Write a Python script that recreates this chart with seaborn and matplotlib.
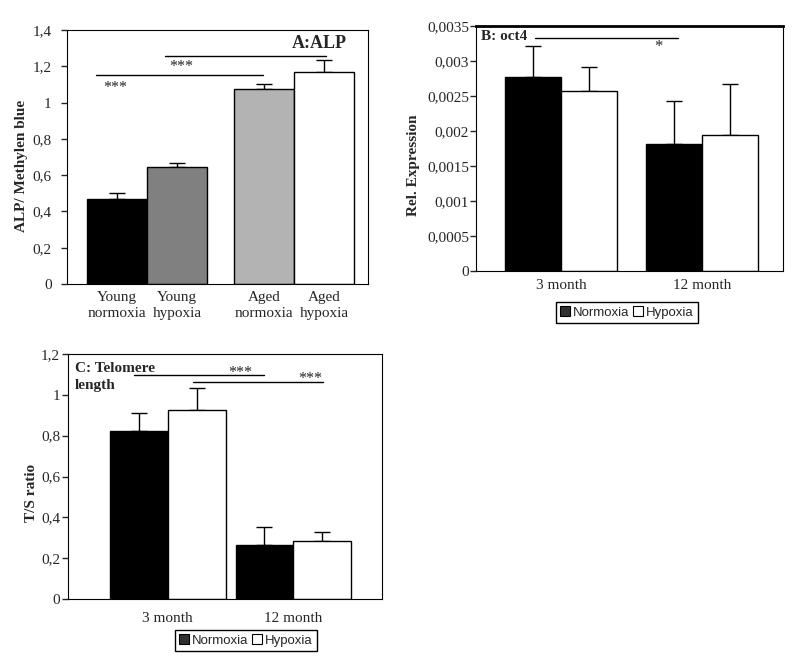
import matplotlib.pyplot as plt
import pandas as pd
import seaborn as sns
from matplotlib.patches import Patch

# Panel A: ALP / Methylen blue
alp_groups = ["Young", "Aged"]
alp_conditions = ["normoxia", "hypoxia"]
alp_values = [0.468, 0.643, 1.073, 1.170]
alp_errors = [0.035, 0.022, 0.027, 0.063]
alp_colors = ["black", "#808080", "#b3b3b3", "white"]
alp_tick_labels = ["Young\nnormoxia", "Young\nhypoxia", "Aged\nnormoxia", "Aged\nhypoxia"]
alp_yticks = [0, 0.2, 0.4, 0.6, 0.8, 1.0, 1.2, 1.4]

# Panel B: oct4 relative expression
oct4_groups = ["3 month", "12 month"]
oct4_conditions = ["Normoxia", "Hypoxia"]
oct4_values = [0.00277, 0.00257, 0.00182, 0.00195]
oct4_errors = [0.00045, 0.00034, 0.00061, 0.00072]
oct4_yticks = [0, 0.0005, 0.001, 0.0015, 0.002, 0.0025, 0.003, 0.0035]

# Panel C: telomere length
telo_groups = ["3 month", "12 month"]
telo_conditions = ["Normoxia", "Hypoxia"]
telo_values = [0.823, 0.924, 0.264, 0.284]
telo_errors = [0.086, 0.108, 0.090, 0.043]
telo_yticks = [0, 0.2, 0.4, 0.6, 0.8, 1.0, 1.2]

bw_colors = ["black", "white", "black", "white"]

sns.set_style("ticks", rc={"axes.edgecolor": "black", "axes.linewidth": 1.0})
plt.rcParams["font.family"] = ["Liberation Serif", "DejaVu Serif"]
plt.rcParams["font.size"] = 11


def comma(v):
    return f"{v:g}".replace(".", ",")


def draw_bars(ax, groups, conditions, values, errors, colors, width):
    df = pd.DataFrame({
        "group": [g for g in groups for c in conditions],
        "condition": [c for g in groups for c in conditions],
        "value": values,
    })
    sns.barplot(data=df, x="group", y="value", hue="condition", order=groups,
                hue_order=conditions, width=width, errorbar=None, saturation=1,
                palette=["black", "white"], edgecolor="black", linewidth=1,
                legend=False, ax=ax)
    bar_containers = list(ax.containers)
    centers = {}
    for container, cond in zip(bar_containers, conditions):
        for bar, grp in zip(container, groups):
            i = groups.index(grp) * len(conditions) + conditions.index(cond)
            bar.set_facecolor(colors[i])
            bar.set_zorder(2)
            xc = bar.get_x() + bar.get_width() / 2
            centers[i] = xc
            ax.errorbar(xc, values[i], yerr=[[0], [errors[i]]], color="black",
                        lw=1, capsize=6, capthick=1, zorder=1)
    return [centers[i] for i in range(len(values))]


def style_axes(ax, yticks, ypad):
    ax.set_ylim(yticks[0], yticks[-1])
    ax.set_yticks(yticks)
    ax.set_yticklabels([comma(v) for v in yticks])
    ax.tick_params(axis="y", length=4, width=1, pad=ypad, labelsize=11)
    ax.tick_params(axis="x", length=0, labelsize=11)
    ax.set_xlabel("")
    for s in ax.spines.values():
        s.set_visible(True)
        s.set_color("black")


def add_legend(ax, conditions, xfrac):
    handles = [Patch(facecolor="#303030", edgecolor="black", lw=0.8),
               Patch(facecolor="white", edgecolor="black", lw=0.8)]
    leg = ax.legend(handles, conditions, loc="upper center", ncol=2,
                    bbox_to_anchor=(xfrac, -0.125), frameon=True, fancybox=False,
                    edgecolor="black", framealpha=1, handlelength=0.75,
                    handleheight=0.75, handletextpad=0.2, columnspacing=0.3,
                    borderpad=0.35, borderaxespad=0,
                    prop={"family": "Liberation Sans", "size": 9.5})
    leg.get_frame().set_linewidth(1)


fig = plt.figure(figsize=(8.04, 6.72), dpi=100)

# ---- A ----
axA = fig.add_axes([0.0833, 0.5774, 0.3744, 0.378])
centers = draw_bars(axA, alp_groups, alp_conditions, alp_values, alp_errors,
                    alp_colors, 0.816)
style_axes(axA, alp_yticks, 7)
axA.set_xlim(-0.544, 1.503)
axA.set_xticks(centers)
axA.set_xticklabels(alp_tick_labels, linespacing=1.3)
axA.tick_params(axis="x", pad=5)
axA.set_ylabel("ALP/ Methylen blue", fontweight="bold", fontsize=11)
axA.yaxis.set_label_coords(-0.13, 0.465)
axA.plot([-0.347, 0.789], [1.152, 1.152], color="black", lw=1)
axA.plot([0.122, 1.218], [1.257, 1.257], color="black", lw=1)
axA.text(-0.218, 1.08, "***", ha="center", va="center", fontsize=11.5)
axA.text(0.231, 1.195, "***", ha="center", va="center", fontsize=11.5)
axA.text(0.93, 0.945, "A:ALP", transform=axA.transAxes, ha="right", va="center",
         fontweight="bold", fontsize=13)

# ---- B ----
axB = fig.add_axes([0.592, 0.5967, 0.3818, 0.3646])
draw_bars(axB, oct4_groups, oct4_conditions, oct4_values, oct4_errors,
          bw_colors, 0.80)
style_axes(axB, oct4_yticks, 1)
axB.set_xlim(-0.603, 1.574)
axB.tick_params(axis="x", pad=6)
axB.spines["top"].set_linewidth(2)
axB.set_ylabel("Rel. Expression", fontweight="bold", fontsize=11)
axB.yaxis.set_label_coords(-0.182, 0.43)
axB.plot([-0.184, 0.83], [0.003324, 0.003324], color="black", lw=1)
axB.text(0.688, 0.0032, "*", ha="center", va="center", fontsize=12)
axB.text(0.016, 0.959, "B: oct4", transform=axB.transAxes, ha="left", va="center",
         fontweight="bold", fontsize=11)
add_legend(axB, oct4_conditions, 0.492)

# ---- C ----
axC = fig.add_axes([0.0842, 0.1086, 0.391, 0.3646])
draw_bars(axC, telo_groups, telo_conditions, telo_values, telo_errors,
          bw_colors, 0.92)
style_axes(axC, telo_yticks, 1.5)
axC.set_xlim(-0.796, 1.706)
axC.tick_params(axis="x", pad=9)
axC.set_ylabel("T/S ratio", fontweight="bold", fontsize=11)
axC.yaxis.set_label_coords(-0.094, 0.435)
axC.plot([-0.268, 0.767], [1.097, 1.097], color="black", lw=1)
axC.plot([0.201, 1.237], [1.064, 1.064], color="black", lw=1)
axC.text(0.575, 1.108, "***", ha="center", va="center", fontsize=11.5)
axC.text(1.133, 1.079, "***", ha="center", va="center", fontsize=11.5)
axC.text(0.023, 0.969, "C: Telomere\nlength", transform=axC.transAxes, ha="left",
         va="top", fontweight="bold", fontsize=11, linespacing=1.45)
add_legend(axC, telo_conditions, 0.567)

fig.savefig("out.png", dpi=100)
